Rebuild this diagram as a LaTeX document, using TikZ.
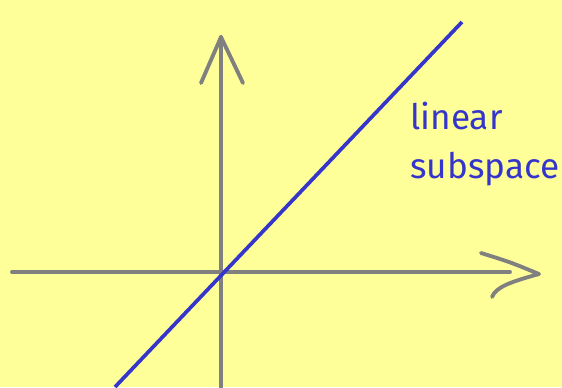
\documentclass[tikz,border=0pt]{standalone}
\usepackage{fontspec}
\setmainfont{Fira Sans}
\definecolor{paper}{HTML}{FFFF99}
\definecolor{axisgray}{HTML}{808080}
\definecolor{subblue}{HTML}{3535CC}
\begin{document}
\begin{tikzpicture}[x=0.02cm,y=-0.02cm]
\tikzstyle{ax}=[draw=axisgray,line width=2.2pt,line cap=round,line join=round]
\tikzstyle{sub}=[draw=subblue,line width=2.1pt]

% Background
\fill[paper] (0,0) rectangle (562,387);
\useasboundingbox (0,0) rectangle (562,387);

% Axes
\coordinate (xl) at (12,272);
\coordinate (xr) at (510,272);
\coordinate (xtip) at (539,274);
\coordinate (xwa) at (481,253);
\coordinate (xwb) at (492,297);
\coordinate (yb) at (221,387);
\coordinate (yt) at (221,37);
\coordinate (ywa) at (201,83);
\coordinate (ywb) at (243,83);
\draw[ax] (xl)--(xr) (yb)--(yt);
\draw[ax] (ywa)--(yt)--(ywb);
\draw[ax] (xwa) .. controls (510,262) .. (xtip) .. controls (510,282) and (496,287) .. (xwb);

% Subspace line
\coordinate (s0) at (115,387);
\coordinate (s1) at (462,22);
\draw[sub] (s0)--(s1);
\node[anchor=north west,inner sep=0pt,align=left,text=subblue,font=\fontsize{20}{28}\selectfont] (lbl) at (410,102) {linear\\subspace};
\end{tikzpicture}
\end{document}
